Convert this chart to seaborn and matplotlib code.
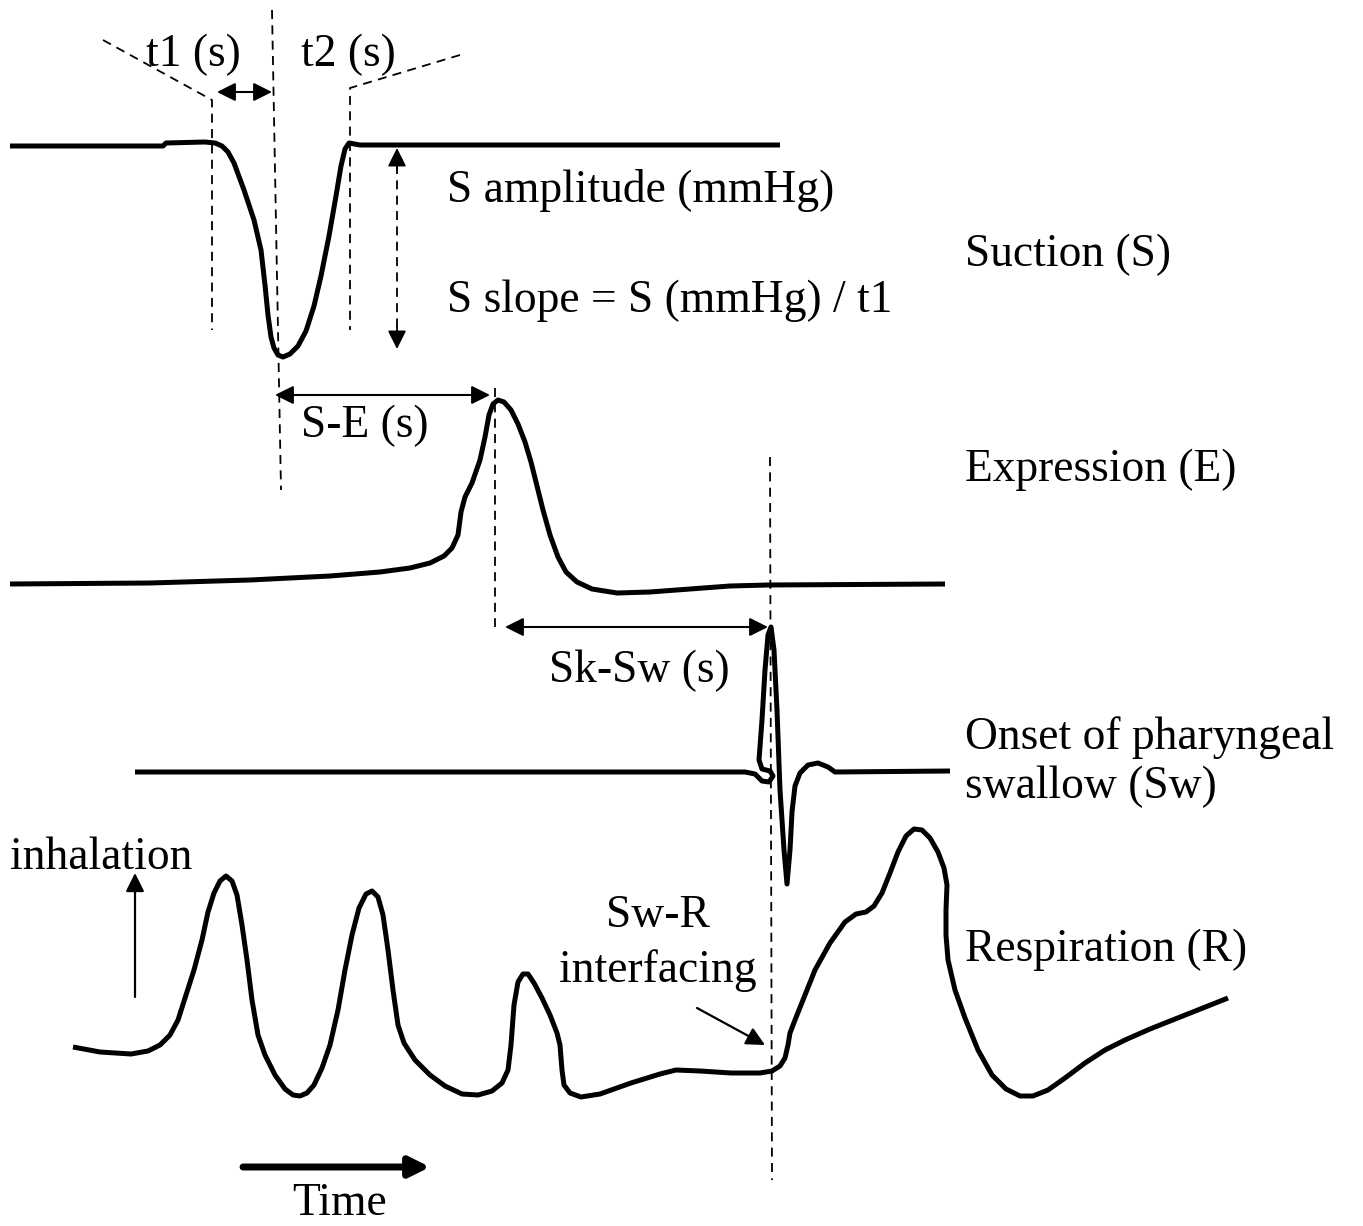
import numpy as np
import pandas as pd
import matplotlib
matplotlib.use("Agg")
import matplotlib.pyplot as plt
import seaborn as sns

# traces, in picture coordinates (x right, y down)
suction_x = [10, 163, 166, 205, 215, 222, 228, 234, 244, 254, 261, 265, 268, 271, 274, 278, 283, 290, 298, 306, 314, 321, 329, 336, 341, 345, 349, 360, 540, 780]
suction_y = [146, 146, 143, 142, 143, 146, 152, 163, 190, 220, 250, 285, 315, 337, 348, 355, 357, 354, 346, 331, 306, 276, 236, 196, 166, 149, 143, 145, 145, 145]

expr_x = [10, 150, 250, 330, 380, 410, 430, 444, 452, 458, 461, 465, 472, 480, 485, 489, 493, 498, 504, 511, 518, 525, 531, 537, 543, 550, 558, 566, 577, 592, 617, 650, 690, 730, 768, 945]
expr_y = [584, 583, 580, 576, 572, 568, 563, 556, 548, 535, 512, 497, 483, 460, 437, 415, 404, 400, 402, 410, 424, 442, 462, 486, 510, 535, 557, 572, 582, 589, 593, 592, 589, 586, 585, 584]

swal_x = [135, 745, 755, 762, 769, 773, 770, 762, 759, 762, 765, 768, 771, 774, 777, 780, 784, 787, 790, 792, 795, 800, 808, 818, 828, 835, 950]
swal_y = [772, 772, 774, 781, 782, 776, 771, 769, 760, 720, 670, 635, 627, 650, 710, 790, 850, 884, 850, 812, 786, 773, 765, 763, 767, 772, 771]

resp_x = [73, 100, 131, 148, 160, 170, 178, 186, 194, 202, 208, 214, 220, 226, 232, 237, 242, 247, 252, 258, 265, 275, 285, 293, 300, 307, 314, 322, 330, 338, 345, 352, 359, 366, 372, 378, 383, 388, 393, 398, 404, 415, 430, 445, 462, 478, 492, 502, 508, 511, 514, 518, 523, 528, 534, 542, 550, 557, 560, 562, 564, 570, 581, 600, 631, 660, 676, 700, 731, 760, 772, 780, 785, 788, 790, 795, 803, 815, 830, 845, 856, 866, 874, 882, 890, 898, 906, 914, 922, 930, 938, 944, 947, 946, 946, 948, 955, 965, 978, 992, 1006, 1020, 1033, 1048, 1065, 1085, 1105, 1125, 1150, 1228]
resp_y = [1047, 1052, 1054, 1051, 1045, 1035, 1020, 995, 970, 940, 912, 893, 881, 876, 881, 895, 925, 960, 1000, 1035, 1055, 1075, 1089, 1095, 1096, 1093, 1085, 1068, 1045, 1010, 970, 935, 908, 894, 891, 897, 915, 950, 990, 1025, 1043, 1060, 1075, 1086, 1094, 1095, 1091, 1083, 1070, 1045, 1005, 982, 974, 974, 983, 998, 1015, 1033, 1045, 1070, 1085, 1093, 1097, 1094, 1083, 1074, 1070, 1071, 1073, 1073, 1071, 1066, 1058, 1045, 1033, 1020, 1000, 970, 943, 922, 914, 912, 906, 893, 873, 852, 836, 829, 830, 838, 852, 868, 885, 910, 935, 960, 990, 1018, 1050, 1075, 1089, 1096, 1096, 1090, 1078, 1063, 1050, 1040, 1029, 998]

trace_names = ["Suction (S)", "Expression (E)", "Onset of pharyngeal\nswallow (Sw)", "Respiration (R)"]
trace_label_y = [255, 470, 762, 950]

sns.set_theme(style="white")
plt.rcParams["font.family"] = ["Liberation Serif", "DejaVu Serif"]
plt.rcParams["text.color"] = "black"

fig = plt.figure(figsize=(13.63, 12.26), dpi=100)
ax = fig.add_axes([0, 0, 1, 1])

lw = 3.6
for xs, ys in [(suction_x, suction_y), (expr_x, expr_y), (swal_x, swal_y), (resp_x, resp_y)]:
    df = pd.DataFrame({"x": xs, "y": ys})
    sns.lineplot(data=df, x="x", y="y", sort=False, estimator=None, color="black",
                 lw=lw, ax=ax, solid_joinstyle="round", solid_capstyle="butt")
ax.set_xlim(0, 1363)
ax.set_ylim(1226, 0)
ax.axis("off")

dash = dict(color="black", lw=1.3, ls=(0, (5, 3.5)))
# suction guides
ax.plot([103, 212, 212], [40, 100, 330], **dash)
ax.plot([460, 350, 350], [55, 88, 330], **dash)
ax.plot([272, 281], [10, 490], **dash)
# peak markers
ax.plot([495, 495], [388, 627], **dash)
ax.plot([770, 772], [457, 1180], **dash)

two = dict(arrowstyle="<|-|>", color="black", lw=1.5, mutation_scale=28, shrinkA=0, shrinkB=0)
ax.annotate("", xy=(217, 92), xytext=(272, 92), arrowprops=two)
ax.annotate("", xy=(275, 395), xytext=(490, 395), arrowprops=two)
ax.annotate("", xy=(505, 627), xytext=(768, 627), arrowprops=two)

# amplitude (dashed shaft, solid heads)
ax.plot([397, 397], [165, 333], **dash)
one = dict(arrowstyle="-|>", color="black", lw=1.3, mutation_scale=28, shrinkA=0, shrinkB=0)
ax.annotate("", xy=(397, 148), xytext=(397, 170), arrowprops=one)
ax.annotate("", xy=(397, 349), xytext=(397, 327), arrowprops=one)

ax.annotate("", xy=(135, 873), xytext=(135, 997), arrowprops=dict(one, lw=1.6))
ax.annotate("", xy=(765, 1045), xytext=(697, 1008), arrowprops=dict(one, lw=1.6))
ax.annotate("", xy=(430, 1167), xytext=(243, 1167),
            arrowprops=dict(arrowstyle="-|>", color="black", lw=5, mutation_scale=30,
                            shrinkA=0, shrinkB=0))

fs = 32.8
ax.text(193, 55, "t1 (s)", fontsize=fs, ha="center", va="center")
ax.text(348, 55, "t2 (s)", fontsize=fs, ha="center", va="center")
ax.text(447, 191, "S amplitude (mmHg)", fontsize=fs, ha="left", va="center")
ax.text(447, 301, "S slope = S (mmHg) / t1", fontsize=fs, ha="left", va="center")
ax.text(365, 426, "S-E (s)", fontsize=fs, ha="center", va="center")
ax.text(639, 671, "Sk-Sw (s)", fontsize=fs, ha="center", va="center")
ax.text(658, 916, "Sw-R", fontsize=fs, ha="center", va="center")
ax.text(658, 971, "interfacing", fontsize=fs, ha="center", va="center")
ax.text(10, 858, "inhalation", fontsize=fs, ha="left", va="center")
ax.text(340, 1204, "Time", fontsize=fs, ha="center", va="center")
for name, y in zip(trace_names, trace_label_y):
    ax.text(965, y, name, fontsize=fs, ha="left", va="center", linespacing=1.22)

fig.savefig("out.png", dpi=100, facecolor="white")
